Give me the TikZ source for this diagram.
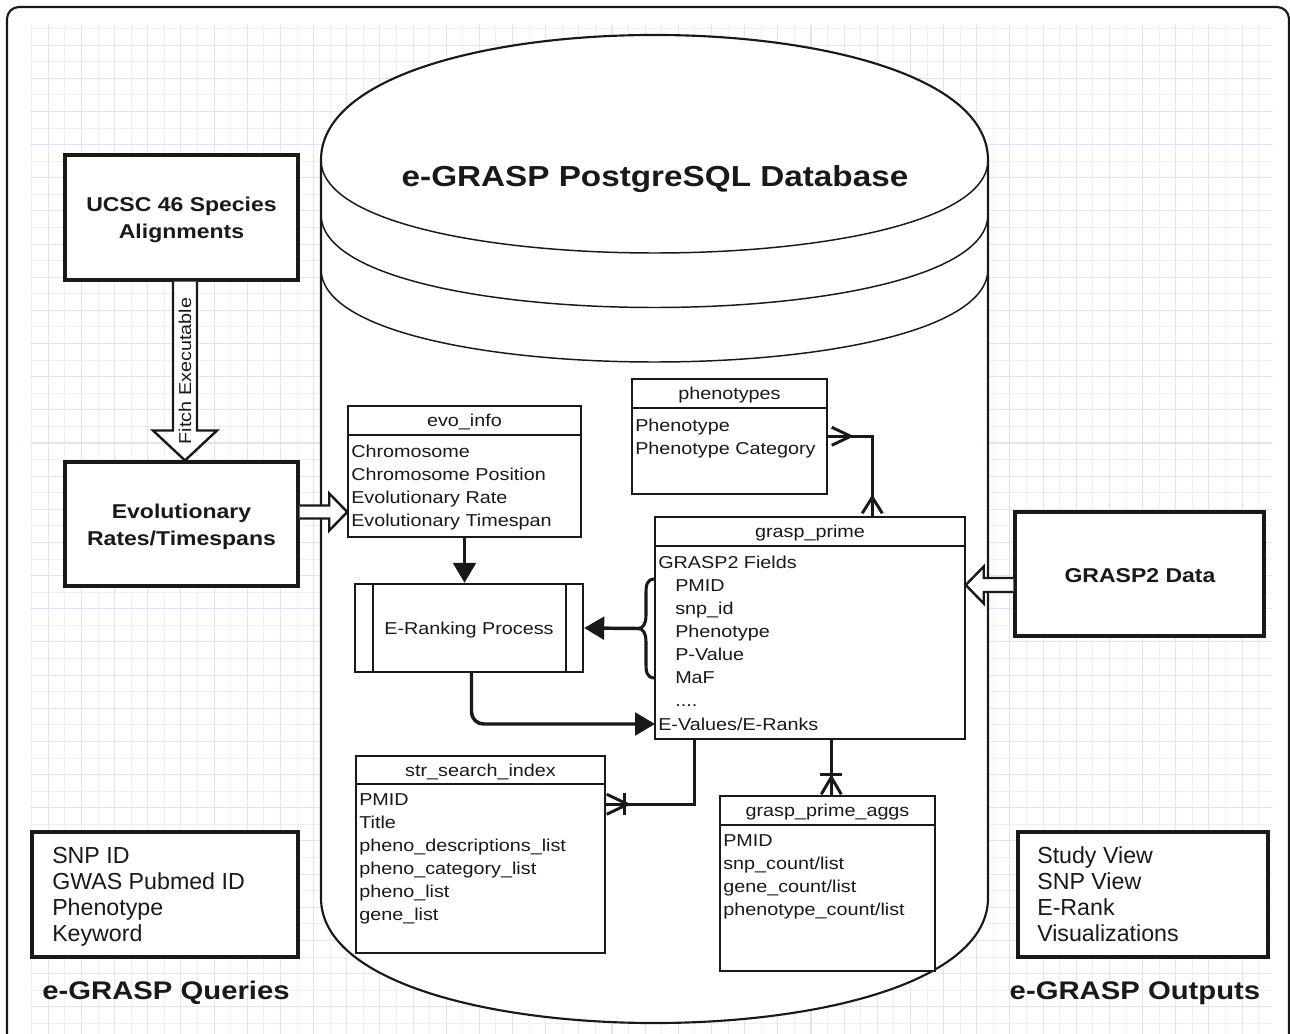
\documentclass[tikz,border=0pt]{standalone}
\usepackage{fontspec}
\setmainfont{Liberation Sans}
\newfontfamily\wide{Liberation Sans}[FakeStretch=1.15]
\usetikzlibrary{calc,arrows.meta,fit}
\definecolor{gridA}{RGB}{238,238,253}
\definecolor{gridB}{RGB}{226,226,250}
\definecolor{ink}{RGB}{25,25,25}
\newcommand\fsz[2]{\fontsize{#1}{#2}\selectfont}
\tikzset{
  tblbox/.style={draw=ink, line width=1.1pt, fill=white, inner sep=0pt},
  bigbox/.style={draw=ink, line width=2.3pt, fill=white, inner sep=0pt},
  tline/.style={draw=ink, line width=1.1pt},
  cell/.style={font=\wide\fsz{12.9}{12.9}, text=ink, text height=9.24pt, text depth=0pt, inner ysep=0pt, inner xsep=2.25pt, anchor=west},
  hdr/.style={font=\wide\fsz{12.9}{12.9}, text=ink, text height=9.24pt, text depth=0pt, inner sep=0pt},
  btxt/.style={font=\wide\bfseries\fsz{15}{15}, text=ink, text height=10.74pt, text depth=0pt, inner sep=0pt},
  ltxt/.style={font=\fsz{17.4}{17.4}, text=ink, text height=12.46pt, text depth=0pt, inner sep=0pt, anchor=west},
  lbl/.style={font=\wide\bfseries\fsz{19.1}{19.1}, text=ink, text height=13.7pt, text depth=0pt, inner sep=0pt},
  conn/.style={draw=ink, line width=2.6pt},
  foot/.style={draw=ink, line width=2.2pt},
  harrow/.style={draw=ink, line width=1.8pt, fill=white, line join=miter},
  solidtip/.style={-{Triangle[length=15pt,width=17pt]}},
}
\begin{document}
\begin{tikzpicture}[x=0.75pt,y=-0.75pt]
\useasboundingbox (0,0) rectangle (1290,1034);
\clip (0,0) rectangle (1290,1034);
% grid
\foreach \i in {0,...,74} {\draw[line width=0.7pt, draw=gridA] ({31.7+16.58*\i},25) -- ({31.7+16.58*\i},1034);}
\foreach \i in {0,...,60} {\draw[line width=0.7pt, draw=gridA] (30,{28.5+16.58*\i}) -- (1272,{28.5+16.58*\i});}
\foreach \i in {1,3,...,73} {\draw[line width=0.8pt, draw=gridB] ({31.7+16.58*\i},25) -- ({31.7+16.58*\i},1034);}
\foreach \i in {1,3,...,59} {\draw[line width=0.8pt, draw=gridB] (30,{28.5+16.58*\i}) -- (1272,{28.5+16.58*\i});}
% frame
\draw[ink, line width=1.6pt, rounded corners=9pt] (7,7) rectangle (1289,1100);
% database cylinder
\path[draw=ink, line width=1.6pt, fill=white] (321,160) .. controls (321,-6.7) and (988,-6.7) .. (988,160) -- (988,898) .. controls (988,1064.7) and (321,1064.7) .. (321,898) -- cycle;
\foreach \s in {160,214.5,269} {\draw[ink, line width=1.1pt] (321,\s) .. controls (321,{\s+124}) and (988,{\s+124}) .. (988,\s);}
\node[font=\wide\bfseries\fsz{21.7}{21.7}, text=ink, text height=15.5pt, text depth=0pt, inner sep=0pt] (title) at (655,176) {e-GRASP PostgreSQL Database};
% phenotypes
\node[tblbox, fit={(632,379) (827,494)}] (ph) {};
\draw[tline] (632,408) -- (827,408);
\node[hdr] (ph-h) at (729.5,393.5) {phenotypes};
\node[cell] (ph-1) at (632,425) {Phenotype};
\node[cell] (ph-2) at (632,448) {Phenotype Category};
% evo_info
\node[tblbox, fit={(348,406) (581,537)}] (evo) {};
\draw[tline] (348,435) -- (581,435);
\node[hdr] (evo-h) at (464.5,420.5) {evo\_info};
\node[cell] (evo-1) at (348,451) {Chromosome};
\node[cell] (evo-2) at (348,474) {Chromosome Position};
\node[cell] (evo-3) at (348,497) {Evolutionary Rate};
\node[cell] (evo-4) at (348,520) {Evolutionary Timespan};
% grasp_prime
\node[tblbox, fit={(655,517) (965,739)}] (gp) {};
\draw[tline] (655,546) -- (965,546);
\node[hdr] (gp-h) at (810,531.5) {grasp\_prime};
\node[cell] (gp-0) at (655,562) {GRASP2 Fields};
\node[cell] (gp-1) at (672,585) {PMID};
\node[cell] (gp-2) at (672,608) {snp\_id};
\node[cell] (gp-3) at (672,631) {Phenotype};
\node[cell] (gp-4) at (672,654) {P-Value};
\node[cell] (gp-5) at (672,677) {MaF};
\node[cell] (gp-6) at (672,700) {....};
\node[cell] (evals) at (655,724) {E-Values/E-Ranks};
% E-Ranking process
\node[draw=ink, line width=1.8pt, fill=white, inner sep=0pt, fit={(355,584) (583,672)}] (erank) {};
\draw[ink, line width=1.8pt] (373,584) -- (373,672);
\draw[ink, line width=1.8pt] (566,584) -- (566,672);
\node[hdr] (erank-t) at (469,628) {E-Ranking Process};
% str_search_index
\node[tblbox, fit={(356,756) (605,953)}] (str) {};
\draw[tline] (356,784) -- (605,784);
\node[hdr] (str-h) at (480.5,770) {str\_search\_index};
\node[cell] (str-1) at (356,799) {PMID};
\node[cell] (str-2) at (356,822) {Title};
\node[cell] (str-3) at (356,845) {pheno\_descriptions\_list};
\node[cell] (str-4) at (356,868) {pheno\_category\_list};
\node[cell] (str-5) at (356,891) {pheno\_list};
\node[cell] (str-6) at (356,914) {gene\_list};
% grasp_prime_aggs
\node[tblbox, fit={(720,796) (935,971)}] (agg) {};
\draw[tline] (720,825) -- (935,825);
\node[hdr] (agg-h) at (827.5,810.5) {grasp\_prime\_aggs};
\node[cell] (agg-1) at (720,840) {PMID};
\node[cell] (agg-2) at (720,863) {snp\_count/list};
\node[cell] (agg-3) at (720,886) {gene\_count/list};
\node[cell] (agg-4) at (720,909) {phenotype\_count/list};
% connectors
\draw[conn, solidtip] (evo.south) -- (evo.south |- erank.north);
\coordinate (bt) at (638,628.5);
\draw[ink, line width=2.3pt] (655,579) .. controls (646,579) and (646,586) .. (646,595) -- (646,615) .. controls (646,624) and (643,628.5) .. (bt) .. controls (643,628.5) and (646,633) .. (646,642) -- (646,662) .. controls (646,671) and (646,678) .. (655,678);
\draw[conn, solidtip] (bt) -- (erank.east);
\draw[conn, solidtip, rounded corners=9pt] ($(erank.south)+(2.5,0)$) |- (evals.west);
% grasp_prime -> str_search_index
\coordinate (s1) at ($(gp.south west)+(40,0)$);
\coordinate (s2) at ($(str.north east)+(0,49)$);
\draw[conn] (s1) |- (s2);
\draw[foot] ($(s2)+(22,0)$) -- ($(s2)+(1,-10)$);
\draw[foot] ($(s2)+(22,0)$) -- ($(s2)+(1,10)$);
\draw[foot] ($(s2)+(19,-11)$) -- ($(s2)+(19,11)$);
% grasp_prime -> aggs
\coordinate (a1) at ($(gp.south west)+(177,0)$);
\coordinate (a2) at ($(agg.north west)+(112,0)$);
\draw[conn] (a1) -- (a2);
\draw[foot] ($(a2)+(0,-18)$) -- ($(a2)+(-10,-1)$);
\draw[foot] ($(a2)+(0,-18)$) -- ($(a2)+(10,-1)$);
\draw[foot] ($(a2)+(-11,-21)$) -- ($(a2)+(11,-21)$);
% grasp_prime -> phenotypes
\coordinate (p1) at ($(gp.north west)+(218,0)$);
\coordinate (p2) at ($(ph.north east)+(0,58)$);
\draw[conn] (p1) |- (p2);
\draw[foot] ($(p2)+(23,0)$) -- ($(p2)+(4,-9)$);
\draw[foot] ($(p2)+(23,0)$) -- ($(p2)+(4,9)$);
\draw[foot] ($(p1)+(0,-19)$) -- ($(p1)+(-10,-3)$);
\draw[foot] ($(p1)+(0,-19)$) -- ($(p1)+(10,-3)$);
% outer boxes
\node[bigbox, fit={(65,155) (298,280)}] (ucsc) {};
\node[btxt] (ucsc-1) at (181.5,204) {UCSC 46 Species};
\node[btxt] (ucsc-2) at (181.5,231) {Alignments};
\node[bigbox, fit={(65,462) (298,586)}] (evb) {};
\node[btxt] (evb-1) at (181.5,511) {Evolutionary};
\node[btxt] (evb-2) at (181.5,538) {Rates/Timespans};
\node[bigbox, fit={(1015,512) (1264,636)}] (g2) {};
\node[btxt] (g2-t) at (1140,575) {GRASP2 Data};
\node[bigbox, fit={(32,832) (298,957)}] (qry) {};
\node[ltxt] (qry-1) at (52,855) {SNP ID};
\node[ltxt] (qry-2) at (52,881) {GWAS Pubmed ID};
\node[ltxt] (qry-3) at (52,907) {Phenotype};
\node[ltxt] (qry-4) at (52,933) {Keyword};
\node[bigbox, fit={(1018,832) (1268,957)}] (out) {};
\node[ltxt] (out-1) at (1037,855) {Study View};
\node[ltxt] (out-2) at (1037,881) {SNP View};
\node[ltxt] (out-3) at (1037,907) {E-Rank};
\node[ltxt] (out-4) at (1037,933) {Visualizations};
\node[lbl] (qlbl) at (166,990) {e-GRASP Queries};
\node[lbl] (olbl) at (1135,990) {e-GRASP Outputs};
% hollow block arrows
\coordinate (fA) at ($(ucsc.south)+(3.5,0)$);
\coordinate (fB) at ($(evb.north)+(3.5,0)$);
\draw[harrow] let \p1=(fA), \p2=(fB) in (\x1-9pt,\y1) -- (\x1-9pt,\y2+22.5pt) -- (\x1-24pt,\y2+22.5pt) -- (\x2,\y2) -- (\x1+24pt,\y2+22.5pt) -- (\x1+9pt,\y2+22.5pt) -- (\x1+9pt,\y1);
\node[hdr, rotate=90] (fitch) at ($(fA)!0.5!(fB)$) {Fitch Executable};
\coordinate (eA) at ($(evb.east)+(0,-12)$);
\coordinate (eB) at (evo.west |- eA);
\draw[harrow] let \p1=(eA), \p2=(eB) in (\x1,\y1+4.9pt) -- (\x2-13.5pt,\y1+4.9pt) -- (\x2-13.5pt,\y1+13.9pt) -- (\x2,\y1) -- (\x2-13.5pt,\y1-13.9pt) -- (\x2-13.5pt,\y1-4.9pt) -- (\x1,\y1-4.9pt);
\coordinate (gA) at ($(g2.west)+(0,11)$);
\coordinate (gB) at (gp.east |- gA);
\draw[harrow] let \p1=(gA), \p2=(gB) in (\x1,\y1+5.25pt) -- (\x2+13.5pt,\y1+5.25pt) -- (\x2+13.5pt,\y1+13.9pt) -- (\x2,\y1) -- (\x2+13.5pt,\y1-13.9pt) -- (\x2+13.5pt,\y1-5.25pt) -- (\x1,\y1-5.25pt);
\end{tikzpicture}
\end{document}
